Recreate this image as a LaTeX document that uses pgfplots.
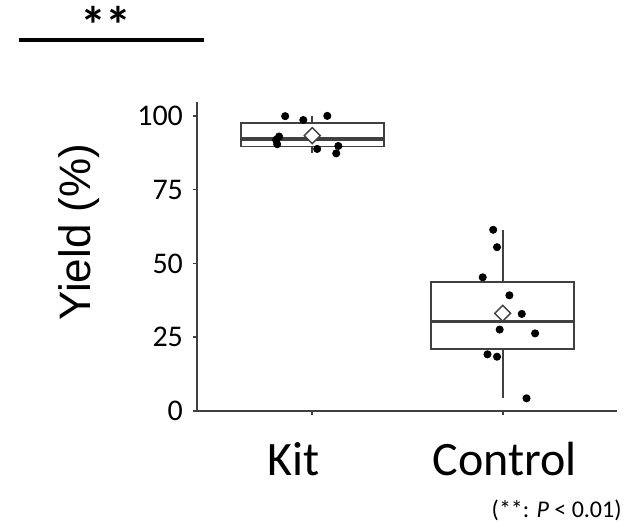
\documentclass[border=0pt]{standalone}
\usepackage{fontspec}
\setmainfont{Carlito}
\newfontfamily\arialfont{Liberation Sans}
\usepackage{pgfplots}
\pgfplotsset{compat=1.18}
\usepgfplotslibrary{statistics}
\definecolor{boxgray}{HTML}{404040}

\begin{document}
\begin{tikzpicture}
% frame: 1 px of the reference = 0.5pt, origin at the axis corner
\path[use as bounding box] (-98.5pt,-59pt) rectangle (213.5pt,205.5pt);
\begin{axis}[
    at={(0,0)}, anchor=south west,
    scale only axis,
    width=210pt, height=154.5pt,
    xmin=-0.605, xmax=1.6,
    ymin=0, ymax=104.7,
    axis x line*=bottom, axis y line*=left,
    axis line style={-, boxgray, line width=1pt},
    tick align=outside, major tick length=2pt,
    tick style={boxgray, line width=0.8pt},
    xtick={0,1},
    xticklabels={{Kit\hspace*{19pt}},{\hspace*{2pt}Control}},
    ytick={0,25,50,75,100},
    /pgf/number format/assume math mode=true,
    yticklabel style={font=\fontsize{15}{18}\selectfont, xshift=-1.5pt},
    xticklabel style={font=\fontsize{24}{28}\selectfont, anchor=base, yshift=-30pt},
    ylabel={Yield (\%)},
    ylabel style={font=\arialfont\fontsize{22}{26}\selectfont, at={(axis description cs:-0.281,0.579)}, anchor=center},
    clip=false,
    boxplot/draw direction=y,
    boxplot/every box/.style={draw=boxgray, line width=0.9pt},
    boxplot/every whisker/.style={draw=boxgray, line width=0.9pt},
    boxplot/every median/.style={draw=boxgray, line width=1.7pt},
]
\addplot[boxplot prepared={draw position=0, lower whisker=87.3, lower quartile=89.6,
    median=92.2, upper quartile=97.5, upper whisker=100, box extend=0.75, whisker extend=0}]
    coordinates {};
\addplot[boxplot prepared={draw position=1, lower whisker=4.3, lower quartile=21.0,
    median=30.4, upper quartile=43.8, upper whisker=61.4, box extend=0.75, whisker extend=0}]
    coordinates {};

% individual samples
\addplot[only marks, mark=*, mark size=1.8pt, black] coordinates {
    (-0.142,99.9) (-0.047,98.6) (0.079,100.0) (-0.174,93.0) (-0.19,91.9)
    (-0.184,90.4) (0.026,88.8) (0.137,89.8) (0.126,87.3)
};
\addplot[only marks, mark=*, mark size=1.8pt, black] coordinates {
    (0.95,61.4) (0.97,55.5) (0.895,45.3) (1.035,39.2) (1.1,32.9)
    (0.984,27.6) (1.17,26.3) (0.92,19.2) (0.97,18.4) (1.125,4.3)
};

% means
\addplot[only marks, mark=square*, mark size=2.8pt,
    mark options={rotate=45, fill=white, draw=boxgray, line width=0.7pt}]
    coordinates {(0,93.3) (1,33.1)};
\end{axis}

\draw[line width=2pt] (-89pt,185.5pt) -- (3.5pt,185.5pt);
\node[font=\bfseries\fontsize{26}{30}\selectfont] at (-45.5pt,193pt) {**};
\node[font=\fontsize{12}{14}\selectfont, anchor=base east, inner sep=0pt]
    at (212.5pt,-53pt) {(**: \textit{P} < 0.01)};
\end{tikzpicture}
\end{document}
